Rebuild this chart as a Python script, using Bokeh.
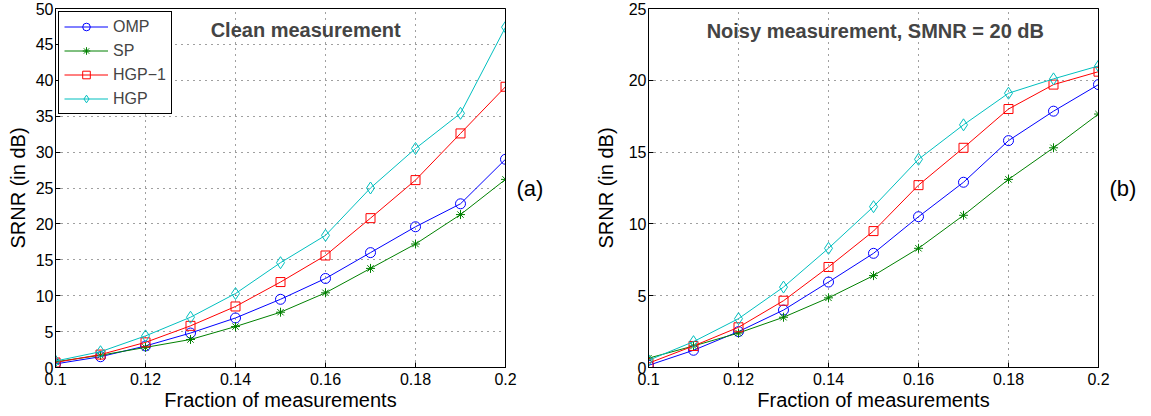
from bokeh.plotting import figure
from bokeh.layouts import row
from bokeh.models import LinearAxis, FixedTicker, Range1d, CustomJSTickFormatter, Label
from bokeh.embed import file_html
from bokeh.resources import INLINE

x = [0.10, 0.11, 0.12, 0.13, 0.14, 0.15, 0.16, 0.17, 0.18, 0.19, 0.20]

clean_omp = [0.5, 1.5, 3.0, 4.8, 6.9, 9.5, 12.4, 16.0, 19.6, 22.8, 29.0]
clean_sp = [0.8, 1.7, 2.8, 3.9, 5.7, 7.7, 10.4, 13.8, 17.2, 21.3, 26.2]
clean_hgp1 = [0.7, 1.8, 3.5, 5.8, 8.5, 11.9, 15.6, 20.8, 26.1, 32.6, 39.1]
clean_hgp = [0.9, 2.2, 4.4, 7.0, 10.3, 14.6, 18.4, 25.0, 30.5, 35.4, 47.4]

noisy_omp = [0.15, 1.2, 2.5, 4.0, 5.95, 7.95, 10.5, 12.9, 15.8, 17.85, 19.7]
noisy_sp = [0.65, 1.5, 2.4, 3.5, 4.85, 6.4, 8.3, 10.6, 13.1, 15.3, 17.65]
noisy_hgp1 = [0.3, 1.5, 2.8, 4.65, 7.0, 9.5, 12.7, 15.3, 18.0, 19.7, 20.6]
noisy_hgp = [0.5, 1.8, 3.4, 5.6, 8.3, 11.2, 14.5, 16.9, 19.1, 20.1, 21.0]

series_names = ["OMP", "SP", "HGP\u22121", "HGP"]
x_ticks = [0.10, 0.12, 0.14, 0.16, 0.18, 0.20]
clean_y_ticks = [0, 5, 10, 15, 20, 25, 30, 35, 40, 45, 50]
noisy_y_ticks = [0, 5, 10, 15, 20, 25]

FONT = "Liberation Sans"
styles = [
    dict(color="#0000ff", marker="circle", size=10),
    dict(color="#008000", marker="asterisk", size=9),
    dict(color="#ff0000", marker="square", size=9),
    dict(color="#00bfbf", marker="diamond", size=12),
]

fmt_code = "return tick.toFixed(2).replace(/0$/, '');"


def make_fig(width, ymax, yticks, border_left, border_right, label_standoff, side_label):
    p = figure(width=width, height=416, x_range=Range1d(0.1, 0.2), y_range=Range1d(0, ymax),
               output_backend="svg", toolbar_location=None,
               min_border_left=border_left, min_border_right=border_right,
               min_border_top=8, min_border_bottom=49)
    p.outline_line_color = "black"
    p.outline_line_width = 1
    p.outline_line_alpha = 1
    p.background_fill_color = "white"
    p.border_fill_color = "white"
    xt = FixedTicker(ticks=x_ticks)
    yt = FixedTicker(ticks=yticks)
    p.xaxis.ticker = xt
    p.yaxis.ticker = yt
    p.xaxis.formatter = CustomJSTickFormatter(code=fmt_code)
    for ax in (p.xaxis, p.yaxis):
        ax.major_tick_in = 5
        ax.major_tick_out = 0
        ax.minor_tick_in = 0
        ax.minor_tick_out = 0
        ax.axis_line_color = "black"
        ax.major_tick_line_color = "black"
        ax.major_label_text_font = FONT
        ax.major_label_text_font_size = "16px"
        ax.major_label_text_color = "black"
        ax.axis_label_text_font = FONT
        ax.axis_label_text_font_size = "20px"
        ax.axis_label_text_font_style = "normal"
        ax.axis_label_text_color = "black"
        ax.major_label_standoff = 2
    p.xaxis.major_label_standoff = 5
    p.xaxis.axis_label = "Fraction of measurements"
    p.yaxis.axis_label = "SRNR (in dB)"
    p.xaxis.axis_label_standoff = 1
    p.yaxis.axis_label_standoff = label_standoff
    rax = LinearAxis(ticker=FixedTicker(ticks=[]), axis_line_color="black",
                     major_tick_in=0, major_tick_out=0, minor_tick_in=0, minor_tick_out=0,
                     axis_label=side_label, axis_label_orientation="horizontal",
                     axis_label_text_font=FONT, axis_label_text_font_size="22px",
                     axis_label_text_font_style="normal", axis_label_text_color="black",
                     axis_label_standoff=11)
    p.add_layout(rax, "right")
    for g in (p.xgrid, p.ygrid):
        g.grid_line_color = "black"
        g.grid_line_dash = "1 5"
        g.grid_line_alpha = 0.75
        g.grid_line_width = 1
    return p


def add_series(p, ys, legend):
    for name, yv, st in zip(series_names, ys, styles):
        kw = dict(legend_label=name) if legend else {}
        p.line(x, yv, line_color=st["color"], line_width=1, **kw)
        p.scatter(x, yv, marker=st["marker"], size=st["size"], line_color=st["color"],
                  fill_color=None, line_width=1, **kw)


p1 = make_fig(575, 50, clean_y_ticks, 55, 70, 4, "(a)")
add_series(p1, [clean_omp, clean_sp, clean_hgp1, clean_hgp], True)
leg = p1.legend[0]
leg.location = "top_left"
leg.margin = 3
leg.border_line_color = "black"
leg.border_line_width = 1
leg.border_line_alpha = 1
leg.background_fill_alpha = 1
leg.label_text_font = FONT
leg.label_text_font_size = "16px"
leg.glyph_width = 44
leg.glyph_height = 19
leg.label_height = 19
leg.spacing = 5
leg.padding = 5
leg.label_standoff = 5
p1.add_layout(Label(x=0.1556, y=47.0, text="Clean measurement", text_font=FONT,
                    text_font_size="20px", text_font_style="bold", text_align="center",
                    text_baseline="middle"))

p2 = make_fig(576, 25, noisy_y_ticks, 73, 53, 9, "(b)")
add_series(p2, [noisy_omp, noisy_sp, noisy_hgp1, noisy_hgp], False)
p2.add_layout(Label(x=0.1504, y=23.4, text="Noisy measurement, SMNR = 20 dB", text_font=FONT,
                    text_font_size="20px", text_font_style="bold", text_align="center",
                    text_baseline="middle"))

layout = row(p1, p2)
open("out.html", "w").write(file_html(layout, INLINE))
